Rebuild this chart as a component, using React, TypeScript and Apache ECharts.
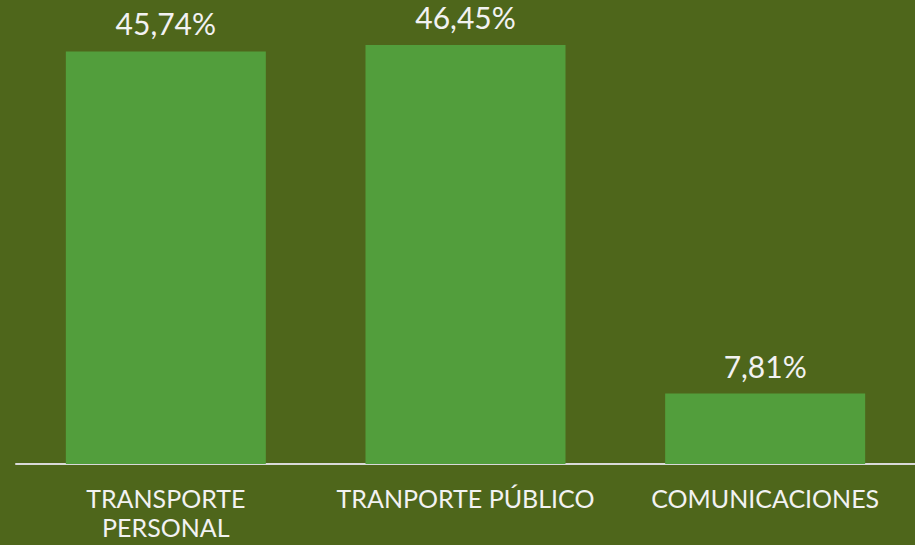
import React, { useEffect, useRef } from "react";
import * as echarts from "echarts";

const categories = ["TRANSPORTE\nPERSONAL", "TRANPORTE PÚBLICO", "COMUNICACIONES"];
const values = [45.74, 46.45, 7.81];
const valueLabels = ["45,74%", "46,45%", "7,81%"];

export default function App() {
  const ref = useRef<HTMLDivElement>(null);
  useEffect(() => {
    document.body.style.margin = "0";
    const chart = echarts.init(ref.current!, undefined, { renderer: "svg" });
    chart.setOption({
      animation: false,
      backgroundColor: "#4e661b",
      grid: { left: 16, top: 13, width: 900, height: 451 },
      xAxis: {
        type: "category",
        data: categories,
        axisLine: { lineStyle: { color: "#d9d9d9", width: 2 } },
        axisTick: { show: false },
        axisLabel: {
          color: "#f2f2f2",
          fontFamily: "Lato",
          fontSize: 25,
          lineHeight: 29,
          margin: 19,
          interval: 0,
        },
      },
      yAxis: {
        type: "value",
        min: 0,
        max: 50,
        show: false,
        splitLine: { show: false },
      },
      series: [
        {
          type: "bar",
          data: values,
          barWidth: 200,
          itemStyle: { color: "#529e3c" },
          label: {
            show: true,
            position: "top",
            distance: 13,
            color: "#f2f2f2",
            fontFamily: "Lato",
            fontSize: 30,
            formatter: (p: any) => valueLabels[p.dataIndex],
          },
        },
      ],
    });
    return () => chart.dispose();
  }, []);
  return <div ref={ref} style={{ width: 915, height: 545 }} />;
}
